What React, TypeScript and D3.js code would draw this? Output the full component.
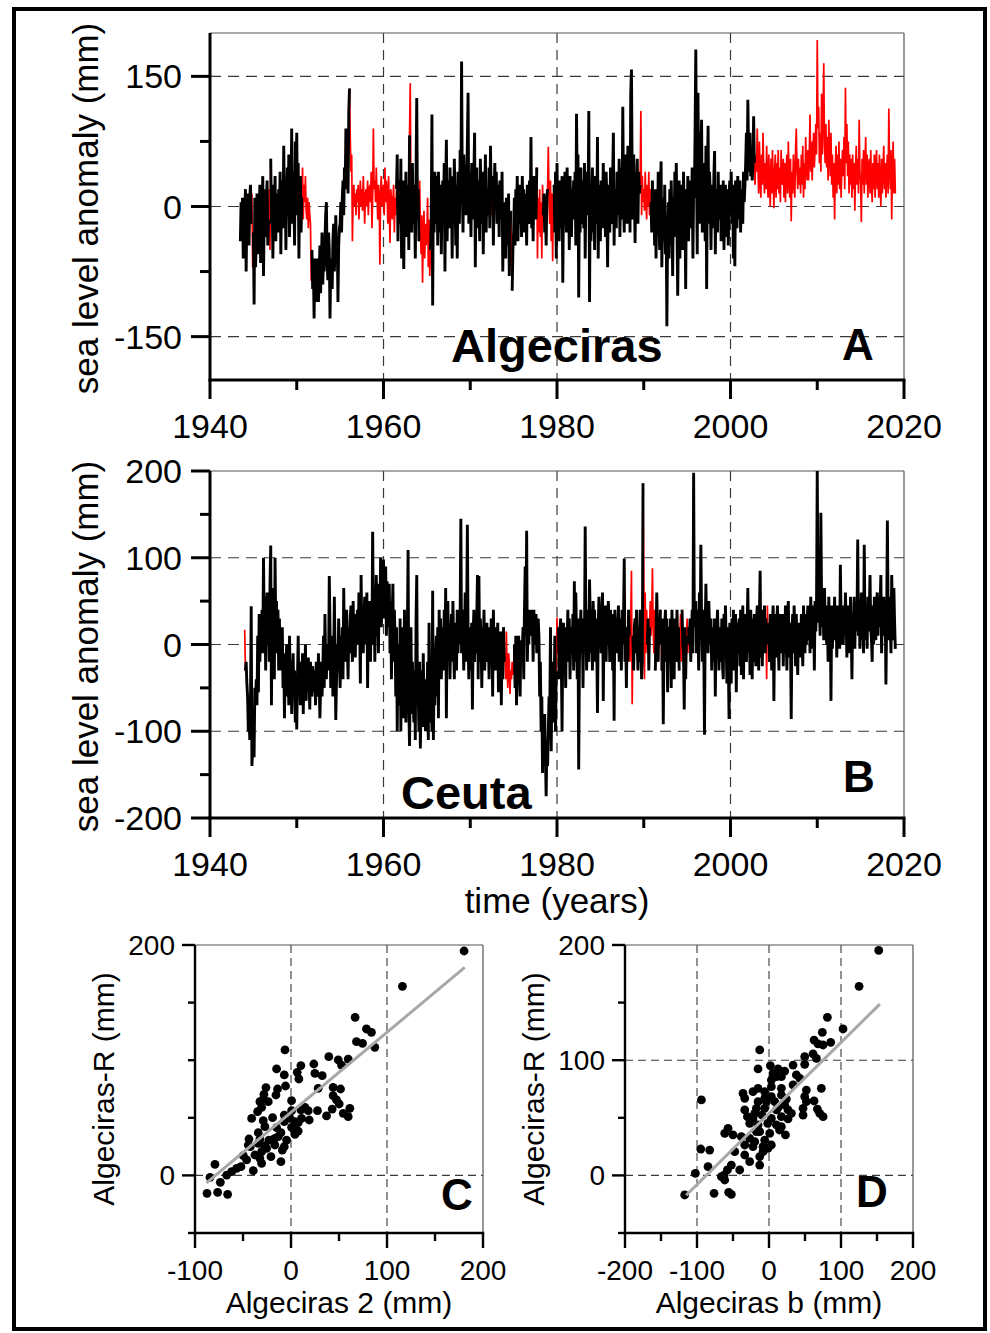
import React, { useEffect, useRef } from "react";
import * as d3 from "d3";

const FONT = "Arial, 'Liberation Sans', Helvetica, sans-serif";

// ---------- shared time axis ----------
const yearMajor = [1940, 1960, 1980, 2000, 2020];
const yearMinor = [1950, 1970, 1990, 2010];
const yearGrid = [1960, 1980, 2000];

// ---------- Panel A: Algeciras monthly sea level anomaly (mm), from Jul 1943 ----------
const algecirasStart = 1943.5;
const algeciras: number[] = [
  -40, 5, -20, 10, -60, -10,
  -15, 20, -75, -5, 15, -30, -45, 10, 25, -20, 15, -70,
  -30, -113, 10, -70, -40, 15, -20, -55, -5, 25, -65, -20,
  -5, 35, -80, -10, 20, -35, 5, 30, -45, -15, 20, -50,
  55, -20, 10, -60, 25, -10, 35, -40, 5, 15, -30, 20,
  -15, 40, -55, 10, 30, -25, 70, -5, 20, -50, 15, 45,
  -10, 60, -35, 25, 5, 90, -20, 40, 10, -45, 75, 30,
  85, -10, 50, -60, 20, 35, -30, 10, 45, -15, 25, 5,
  35, -5, -15, 10, -25, 5, -10, -20, -86, -50, -95, -70,
  -129, -60, -110, -80, -95, -60, -110, -80, -45, -100, -65, -30,
  -90, -55, -75, -40, -10, 5, -60, -85, -30, -50, -129, -70,
  -60, -95, -40, -20, -75, -50, -10, -65, -35, -110, -45, -25,
  -20, 5, -30, 10, 30, -10, 45, 20, 90, 35, 60, 15,
  110, 136, 80, 40, 60, -40, 10, 25, 0, 15, -10, 20,
  5, 25, -15, 10, 30, 0, 20, -5, 35, 10, -20, 15,
  20, 0, 30, -10, 15, 25, 5, 40, -25, 10, 90, 20,
  30, 5, 45, 15, -15, 25, 10, -67, 20, 35, 0, 15,
  25, -10, 45, 5, 30, 15, -20, 35, 0, -42, 20, 10,
  -15, 5, 25, -30, 10, -10, 20, 60, -40, 30, 5, -20,
  55, -60, 10, 30, -72, 15, -20, 40, -35, 5, 25, -50,
  82, 142, 10, -30, 50, -20, 25, 5, -60, 35, 125, -10,
  20, -40, 30, -25, -55, -10, -88, -30, -5, -60, -20, -45,
  -35, 10, -70, -15, -80, -50, -20, 106, -114, 20, -30, 40,
  15, -20, 35, -45, 40, 5, -30, 25, -55, 10, 30, -15,
  50, -75, 20, 77, -40, 10, 30, -25, 45, -10, 15, -60,
  35, -15, 55, 5, -45, 25, -60, 40, 10, -20, 65, 15,
  167, 20, -30, 60, 25, 45, -10, 30, 70, 131, -20, 40,
  15, -35, 50, 10, -15, 35, 85, -70, 20, 45, -25, 10,
  30, -40, 55, 5, -20, 40, -55, 25, 10, 60, -30, 15,
  20, -10, 45, -25, 70, 10, -10, 35, -45, 15, 50, 0,
  40, -20, 25, 5, -35, 30, 10, -15, 40, -75, 5, -40,
  -20, -60, 10, -45, -25, 15, -80, -35, -5, -60, -97, -50,
  -30, 10, -45, 20, -15, 35, -40, 5, 25, -20, 15, -35,
  35, -10, 20, -30, 15, 5, -45, 25, 10, -20, 30, -5,
  80, -25, 15, -40, 35, 0, 20, -15, 45, -60, 10, -30,
  20, -35, 5, -60, 25, -10, 15, -30, 0, -45, 10, 20,
  69, 5, -20, 30, -40, 15, -63, 10, 25, -30, 40, -60,
  50, -15, 20, -40, 30, 5, -25, 35, -88, 10, -20, 40,
  15, -30, 45, -10, 25, -50, 35, 5, -35, 20, -15, 30,
  -10, 40, -45, 107, 20, 60, -105, 15, -30, 45, -20, 10,
  30, -25, 50, -60, 20, -10, 40, 5, 110, -110, 25, -40,
  10, 45, -30, 20, -50, 35, 5, -20, 80, -60, 25, 15,
  -40, 30, 10, -25, 50, -15, 20, -35, 40, 5, -70, 25,
  15, -30, 45, 0, -20, 35, 85, -45, 20, 10, -25, 40,
  30, -10, 55, -35, 20, 45, -15, 115, 10, -30, 60, 25,
  40, -20, 70, 5, 50, -30, 130, 158, 35, -15, 60, 20,
  -42, 30, 10, 55, -20, 40, 15, 25, 110, -10, 35, 5,
  20, -5, 40, 10, -15, 25, 0, 40, -10, 20, 5, -30,
  30, -25, 10, -45, 20, -60, 5, -30, 40, -15, -50, 15,
  52, -70, -20, 10, -40, 25, -55, -15, -138, -30, 5, -60,
  20, -45, 30, -20, -80, 10, -35, 40, -10, 50, -25, -103,
  -15, 30, -60, 10, -30, 25, -50, 40, -20, 5, -95, 20,
  -10, 35, -40, 15, -25, 30, -5, 45, -60, 20, 10, 85,
  181, 40, -55, 131, 20, 85, -20, 60, 100, -30, 25, 50,
  10, -40, 70, -95, 30, 93, -20, 40, 15, -50, 25, 5,
  -25, 35, 64, -55, 10, 20, -30, 40, -15, 5, 25, -40,
  15, -20, 30, -50, 10, 25, -35, 20, 0, -45, 15, 30,
  -10, 40, -20, 25, -60, 10, -69, 30, 5, -25, 35, 15,
  -15, 30, -30, 20, 10, -20, 40, 5, 25, 50, 85, 30,
  123, 60, 40, 85, 35, 55, 30, 45, 104, 50, 25, 60,
  40, 90, 45, 15, 75, 35, 10, 60, 25, 85, 40, 15,
  50, 20, 70, 30, 10, 60, 25, 0, 55, 15, 65, 35,
  -2, 40, 60, 10, 50, 20, 65, 15, 45, 5, 65, 30,
  25, 55, 10, 50, 5, 40, 60, 15, 75, 35, 10, 55,
  -17, 40, 15, 60, 30, 10, 65, 90, 40, 20, 55, 25,
  45, 15, 60, 25, 70, 10, 50, 20, 80, 45, 30, 65,
  30, 60, 106, 40, 75, 30, 65, 85, 45, 70, 95, 60,
  192, 90, 115, 50, 85, 40, 130, 60, 100, 165, 70, 50,
  95, 45, 80, 30, 100, 60, 35, 85, 25, 60, 10, 50,
  -15, 45, 70, 15, 60, 25, 75, 20, 55, 10, 45, 65,
  35, 80, 20, 137, 50, 95, 35, 75, 15, 60, 25, 55,
  10, 60, 20, 50, -5, 45, 70, 25, 55, 15, 100, 40,
  25, -18, 55, 25, 65, 15, 50, 80, 25, 60, 10, 45,
  55, 15, 65, 25, 5, 50, 20, 60, 10, 45, 65, 20,
  50, 10, 60, 25, 0, 55, 15, 45, 70, 20, 50, 10,
  40, 60, 15, 113, 45, 20, 65, -15, 45, 75, 15, 55,
  15,
];
// periods drawn in red (second record filling the gaps)
const algecirasRed: [number, number][] = [
  [1944.8, 1944.95], [1946.8, 1946.95], [1950.6, 1951.7], [1956.15, 1961.45],
  [1963.05, 1963.12], [1964.15, 1965.4], [1972.45, 1972.55], [1974.7, 1974.8],
  [1977.7, 1978.4], [1978.95, 1979.6], [1989.6, 1990.8], [2002.8, 2020],
];

// ---------- Panel B: Ceuta monthly sea level anomaly (mm), from Jan 1944 ----------
const ceutaStart = 1944.0;
const ceuta: number[] = [
  17, -30, -20, -45, -60, -100, -80, -110, -70, 44, -140, -120,
  -90, -130, -50, -65, -40, -70, 10, -55, 35, -20, 30, 5,
  40, -10, 100, 20, 55, -30, 30, 60, 0, 45, -20, 70,
  114, -70, 40, 10, 65, -40, 100, 20, 50, -10, 40, -30,
  30, -20, 10, -30, 20, -50, -10, -85, -20, -40, 0, -60,
  -30, -70, 10, -50, -20, -80, -40, -10, -60, -30, -90, -50,
  -98, -40, 10, -60, -30, -70, -20, -50, -10, -80, -35, -55,
  0, -65, -30, -50, -15, -40, -75, -20, -45, -60, -25, -40,
  -55, -30, -70, -20, -45, -60, -10, -40, -85, -50, -20, -60,
  -30, 10, -50, 35, -20, -40, 0, -10, -30, 79, 20, -50,
  -20, 10, -60, -30, 55, -10, -87, -40, 0, -25, 30, -20,
  -50, 10, -30, 20, -40, 65, -10, 30, -20, 40, 0, -40,
  20, -10, 30, 45, 10, -20, 50, 0, 25, -15, 35, 10,
  40, 0, 60, 20, -45, 80, 10, 45, -10, 30, 55, 0,
  20, 60, -50, 30, 10, 50, -20, 40, 0, 130, 25, 60,
  -20, 40, 80, 10, 50, -10, 70, 30, 100, 20, 55, 40,
  98, 30, 60, 90, 10, 73, 40, 20, 70, -10, 50, -40,
  30, 70, -20, 40, 10, -60, 20, -100, 0, -30, -70, 30,
  -100, 20, -60, -10, -85, 40, -50, -90, -30, 10, 109, -70,
  -117, -40, 20, -80, -20, -60, -90, -30, -110, 25, 80, -70,
  -50, -100, -20, -120, -60, -30, -95, -10, -70, -40, -100, -60,
  -80, -20, -110, 25, -60, -90, -30, -100, 62, -110, -40, -70,
  -20, 10, -60, 20, -85, 40, -10, 30, -40, 0, 20, -30,
  40, -20, 65, -85, 30, 50, -10, 20, -40, 10, 35, -20,
  50, 0, -40, 25, 10, -30, 40, -10, 20, 0, 30, 145,
  -10, 40, 20, -30, 10, 60, -20, 30, 138, 10, -40, 20,
  0, -30, 25, -75, 10, 40, -20, 20, -10, 30, 80, -40,
  79, -20, 30, 0, -50, 20, -10, 40, -30, 10, -20, 25,
  -10, 20, -40, 10, -20, 30, 0, -60, 40, -10, 15, -30,
  20, -20, 25, -55, 0, -30, 15, -70, 10, -40, 20, -20,
  -10, -40, 15, -30, -50, -10, -20, -57, -30, -40, -20, -35,
  -30, 0, -50, 10, -70, -20, -40, 10, -30, -60, 5, -20,
  -10, 20, -40, 40, 90, 10, 131, -20, 30, 0, 40, 20,
  40, 10, 30, -20, 40, 20, 0, 35, -10, 20, 30, 10,
  -60, -20, -100, -60, -148, -90, -120, -80, -130, -175, -110, -140,
  -100, -60, -80, 20, -123, -40, -90, -20, -60, 10, -100, -30,
  31, -10, 20, -40, 10, 30, -20, -100, 0, 25, -30, 15,
  -50, 20, 0, 40, -20, 30, -40, 10, 20, -10, 35, -30,
  73, -20, 60, 10, -40, 30, -144, -20, 10, 40, -10, 20,
  -50, 30, 0, 136, 20, -30, 40, 10, -20, 75, 30, -10,
  20, -30, 50, 10, 40, -20, 30, 0, -79, 20, 55, 10,
  30, -10, 40, 60, -65, 20, 10, 45, -20, 30, 0, 50,
  20, -20, 40, 10, 35, -30, 20, -88, 40, 0, 30, -10,
  20, 45, -20, 30, 10, -30, 40, 0, 25, 99, -20, 10,
  -50, 20, -20, 40, 10, -20, 30, 85, -69, 10, -30, 20,
  30, -10, 40, 0, -30, 20, -20, 40, 10, -40, -20, 186,
  94, -40, 60, -10, 40, 0, 30, -30, 20, 50, 10, 30,
  88, 20, -10, 40, -30, 10, 60, 20, -20, 30, 0, 40,
  10, -30, 30, -92, 0, 20, 40, -20, 30, -55, 10, 20,
  -10, 30, -50, 40, 0, 20, -40, 30, 10, -20, 40, 0,
  20, -30, 10, 35, -20, 40, 0, -10, -75, 20, -40, 10,
  30, -10, 20, 0, 30, -20, 10, 40, -10, 198, 20, 30,
  50, -10, 40, 20, -30, 60, 10, 115, 30, -20, 40, 0,
  -104, 20, 70, 10, 30, -10, 50, 20, 0, 30, -30, 20,
  10, -20, 30, -60, 20, 0, 40, 10, -30, 20, 0, -20,
  30, -25, -40, 35, -10, 45, 5, -45, 20, -20, -86, 25,
  15, -45, 30, -15, 40, -30, 10, 35, -55, 25, -10, 15,
  30, -25, 40, -35, 5, 45, -40, 25, -15, 35, -20, 20,
  65, -10, 25, -35, 40, 5, -40, 30, -20, 35, 0, -25,
  25, 45, -5, -30, 35, 85, -15, 30, -25, 40, 5, 45,
  -10, 30, -40, 45, 0, 25, -20, 35, 10, -30, 25, 45,
  -65, 15, 35, -15, 25, 45, 0, -30, 35, -10, 25, 5,
  35, -25, 25, -10, 45, 5, -30, 35, 50, -15, 25, 0,
  -86, 15, 35, -10, 45, 20, -25, 35, -5, -35, 25, 10,
  25, -15, 35, 5, -25, 45, 15, -10, 35, 0, 25, 45,
  5, 35, -10, 55, 15, 45, -5, 35, -30, 50, 15, 45,
  200, 60, 25, 45, 10, 152, 50, 20, 45, 5, 65, 25,
  45, 0, 35, -20, 55, 15, 30, -65, 45, -5, 35, 15,
  55, 5, 45, -15, 30, 10, 45, -5, 92, 25, 0, 45,
  0, 45, 10, 60, 25, -15, 45, 10, 35, -10, 55, 15,
  -40, 35, 5, 55, -5, 45, 15, 30, 121, 10, 45, -5,
  30, 60, 5, 45, -10, 115, 25, 5, 45, -5, 55, 15,
  40, 80, 20, 5, -20, 45, 0, 55, 25, 5, 45, 60,
  10, 55, 20, 45, 80, -10, 35, 10, 55, 20, 45, -46,
  25, 143, 40, 5, 55, 20, -10, 80, 35, 5, 65, 25,
  -5,
];
const ceutaRed: [number, number][] = [
  [1944.0, 1944.05], [1974.0, 1975.0], [1980.0, 1980.1], [1988.4, 1988.7],
  [1990.0, 1990.35], [1990.7, 1991.3], [1991.95, 1992.05], [1994.15, 1994.4],
  [1995.0, 1995.1], [2004.15, 2004.3],
];

// ---------- Panel C: Algeciras 2 vs Algeciras-R (mm) ----------
const scatterC_x = [
  180.3, 116.1, 66.8, 78.6, 83.8, 68.2, 74.5, 87.3, -6.3, 39.4, 49.2, 59.6, 52.6, 23.8, 10.3,
  -15.0, 6.5, 24.9, 32.5, -7.0, 8.2, -5.7, -14.0, -26.1, 28.3, 43.9, 51.6, -28.2, -15.7, -28.9,
  43.9, 47.4, 0.6, -32.4, 50.2, -30.6, 14.5, 10.3, 0.6, 42.9, 61.3, 27.6, 17.9, 54.4, 59.6,
  -41.0, -19.2, -28.9, 37.0, 19.0, -7.0, -7.0, 4.1, 7.5, -27.2, 0.6, -15.0, 3.4, 7.5, -34.1,
  -10.5, 4.1, -43.8, -32.4, -23.0, -16.8, -34.1, -20.2, -42.4, -27.2, -25.4, -7.0, -4.6, -9.1, -37.6,
  -32.4, -20.9, -30.6, -49.7, -52.1, -56.6, -61.8, -67.0, -39.3, -79.2, -84.4, -73.6, -87.5, -76.4, -66.0,
  -44.5, -10.5, -23.7, -34.8, -13.3, -1.1, 11.0, -30.6, -46.2, -16.8,
];
const scatterC_y = [
  194.8, 164.1, 137.2, 127.1, 124.2, 116.1, 114.6, 111.2, 108.9, 103.1, 100.2, 101.0, 95.8, 96.7, 95.3,
  92.4, 89.5, 88.6, 86.6, 87.2, 83.7, 77.6, 75.0, 76.2, 75.6, 76.4, 75.0, 70.4, 69.8, 66.3,
  69.2, 65.5, 64.9, 64.0, 62.0, 59.1, 59.1, 56.8, 56.2, 57.6, 58.2, 56.2, 56.2, 53.9, 51.0,
  49.5, 50.1, 47.5, 51.6, 48.1, 52.4, 46.6, 46.6, 45.8, 42.3, 41.7, 41.4, 39.4, 38.5, 37.1,
  37.1, 35.6, 31.6, 31.6, 30.7, 32.2, 27.8, 30.7, 24.9, 25.8, 23.5, 24.9, 30.7, 22.0, 17.7,
  14.8, 16.3, 10.5, 17.1, 7.6, 6.1, 3.2, 0.3, 4.1, 9.6, -1.7, -6.0, -15.6, -14.7, -16.4,
  26.4, 11.9, 64.0, 55.3, 33.6, 49.5, 49.5, 20.6, 13.4, 26.4,
];
const fitC = { slope: 0.695, intercept: 54.7, from: -88, to: 181 };

// ---------- Panel D: Algeciras b vs Algeciras-R (mm) ----------
const scatterD_x = [
  152.4, 125.1, 81.1, 102.8, 74.1, 62.6, 68.1, 85.7, 75.1, -12.9, 49.6, 61.2, 65.8, 33.4, 49.6,
  1.9, -15.2, 12.6, 21.8, 5.6, 17.2, 38.0, 42.7, 3.3, 33.4, -36.1, -22.2, -15.2, -6.0, 17.2,
  51.9, 72.7, -93.9, -6.0, 3.3, 17.2, 49.6, -15.2, 8.0, 24.1, 51.9, 62.6, -33.7, -17.5, -6.0,
  12.6, 26.4, 47.3, 67.2, 70.4, 75.1, -30.0, -22.2, -9.7, 3.3, 17.2, 47.3, 26.4, -26.8, -15.2,
  -1.8, 10.3, 17.2, -56.9, -50.0, -61.5, -38.4, -12.9, 1.0, 14.6, 22.9, -26.8, -19.8, -6.0, 3.3,
  -33.7, -22.2, -8.3, -47.6, -33.7, -12.9, -26.8, -12.9, -94.8, -82.4, -84.7, -102.3, -52.3, -40.7, -57.8,
  -62.4, -61.5, -117.1, -76.3, -56.0, -52.3, -66.1, 10.3, 21.8, 31.1, -3.6, -19.8, 3.3, 10.3, -33.7,
  -8.3, -1.4, -17.5,
];
const scatterD_y = [
  195.4, 164.1, 137.2, 127.1, 124.2, 117.5, 114.1, 115.5, 113.2, 108.9, 103.1, 105.4, 101.6, 95.8, 96.4,
  95.3, 92.4, 92.4, 90.6, 88.6, 85.7, 87.2, 84.3, 82.8, 78.5, 71.2, 72.7, 75.6, 72.7, 75.6,
  74.1, 75.6, 65.5, 66.9, 68.3, 69.8, 68.3, 64.0, 64.0, 66.3, 64.0, 64.6, 56.8, 58.2, 58.2,
  58.8, 56.8, 58.2, 57.6, 53.9, 51.0, 51.0, 49.5, 52.4, 49.5, 51.0, 52.4, 49.0, 45.2, 43.8,
  45.2, 43.8, 42.3, 40.9, 35.1, 36.5, 33.6, 38.0, 36.5, 39.4, 35.1, 32.2, 29.3, 30.7, 26.4,
  26.4, 24.9, 24.9, 20.6, 17.7, 16.3, 11.9, 9.0, 22.9, 22.0, 7.6, 1.8, 9.0, 4.7, 4.7,
  0.3, -4.0, -17.0, -15.6, -14.7, -16.4, -1.1, 56.8, 61.1, 53.9, 64.0, 53.9, 77.0, 85.7, 66.9,
  20.6, 23.5, 38.0,
];
const fitD = { slope: 0.617, intercept: 53.7, from: -115, to: 154 };

type Sel = d3.Selection<SVGGElement, unknown, null, undefined>;

function line(g: Sel, x1: number, y1: number, x2: number, y2: number, stroke: string, w: number, dash?: string) {
  const l = g.append("line").attr("x1", x1).attr("y1", y1).attr("x2", x2).attr("y2", y2)
    .attr("stroke", stroke).attr("stroke-width", w);
  if (dash) l.attr("stroke-dasharray", dash);
  return l;
}

function text(g: Sel, x: number, y: number, s: string, size: number, anchor: string, bold = false) {
  return g.append("text").attr("x", x).attr("y", y).attr("font-family", FONT).attr("font-size", size)
    .attr("text-anchor", anchor).attr("font-weight", bold ? "bold" : "normal").attr("fill", "#000").text(s);
}

interface TimeCfg {
  id: string; top: number; bottom: number; left: number; right: number;
  yMajor: number[]; yMinor: number[]; yGrid: number[];
  values: number[]; start: number; red: [number, number][];
  name: string; nameX: number; nameY: number; letter: string; letterX: number; letterY: number;
}

function timePanel(root: Sel, c: TimeCfg) {
  const g = root.append("g");
  const x = d3.scaleLinear().domain([1940, 2020]).range([c.left, c.right]);
  const y = d3.scaleLinear().domain([-200, 200]).range([c.bottom, c.top]);
  // grid
  c.yGrid.forEach((v) => line(g, c.left, y(v), c.right, y(v), "#3a3a3a", 1.2, "11,7"));
  yearGrid.forEach((v) => line(g, x(v), c.top, x(v), c.bottom, "#3a3a3a", 1.2, "10,7"));
  // top/right frame
  line(g, c.left, c.top, c.right, c.top, "#555", 1.2);
  line(g, c.right, c.top, c.right, c.bottom, "#555", 1.2);

  const clipId = "clip-" + c.id;
  g.append("clipPath").attr("id", clipId).append("rect")
    .attr("x", c.left).attr("y", c.top - 2).attr("width", c.right - c.left).attr("height", c.bottom - c.top + 2);

  const pts = c.values.map((v, i) => ({ t: c.start + i / 12, v }));
  const isRed = pts.map((p) => c.red.some(([a, b]) => p.t >= a - 1e-6 && p.t <= b + 1e-6));
  const redLine = d3.line<{ t: number; v: number }>()
    .defined((_d, i) => isRed[i] || !!isRed[i - 1] || !!isRed[i + 1])
    .x((d) => x(d.t)).y((d) => y(d.v));
  const blackLine = d3.line<{ t: number; v: number }>()
    .defined((_d, i) => !isRed[i])
    .x((d) => x(d.t)).y((d) => y(d.v));
  const sg = g.append("g").attr("clip-path", `url(#${clipId})`);
  sg.append("path").attr("d", redLine(pts) || "").attr("fill", "none").attr("stroke", "#ff0000")
    .attr("stroke-width", 1.7).attr("stroke-linejoin", "miter");
  sg.append("path").attr("d", blackLine(pts) || "").attr("fill", "none").attr("stroke", "#000")
    .attr("stroke-width", 2.9).attr("stroke-linejoin", "miter");

  // axes
  line(g, c.left, c.top, c.left, c.bottom + 1.5, "#000", 3);
  line(g, c.left - 1.5, c.bottom, c.right + 1.5, c.bottom, "#000", 3);
  c.yMajor.forEach((v) => {
    line(g, c.left, y(v), c.left - 19, y(v), "#000", 3);
    text(g, c.left - 28, y(v) + 12, String(v), 34, "end");
  });
  c.yMinor.forEach((v) => line(g, c.left, y(v), c.left - 10, y(v), "#000", 3));
  yearMajor.forEach((v) => {
    line(g, x(v), c.bottom, x(v), c.bottom + 19, "#000", 3);
    text(g, x(v), c.bottom + 58, String(v), 34, "middle");
  });
  yearMinor.forEach((v) => line(g, x(v), c.bottom, x(v), c.bottom + 10, "#000", 3));

  g.append("text").attr("transform", `translate(98,${(c.top + c.bottom) / 2 + 2}) rotate(-90)`)
    .attr("font-family", FONT).attr("font-size", 35).attr("text-anchor", "middle")
    .text("sea level anomaly (mm)");

  text(g, c.nameX, c.nameY, c.name, 47, "start", true);
  text(g, c.letterX, c.letterY, c.letter, 44, "start", true);
}

interface ScatterCfg {
  left: number; right: number; top: number; bottom: number;
  xDomain: [number, number]; yDomain: [number, number];
  xMajor: number[]; xMinor: number[]; yMajor: number[]; yMinor: number[];
  xGrid: number[]; yGrid: number[]; xs: number[]; ys: number[];
  fit: { slope: number; intercept: number; from: number; to: number };
  xLabel: string; yLabel: string; yLabelX: number; letter: string; letterX: number; letterY: number;
}

function scatterPanel(root: Sel, c: ScatterCfg) {
  const g = root.append("g");
  const x = d3.scaleLinear().domain(c.xDomain).range([c.left, c.right]);
  const y = d3.scaleLinear().domain(c.yDomain).range([c.bottom, c.top]);
  c.yGrid.forEach((v) => line(g, c.left, y(v), c.right, y(v), "#3a3a3a", 1.1, "8,5"));
  c.xGrid.forEach((v) => line(g, x(v), c.top, x(v), c.bottom, "#3a3a3a", 1.1, "8,5"));
  line(g, c.left, c.top, c.right, c.top, "#555", 1.2);
  line(g, c.right, c.top, c.right, c.bottom, "#555", 1.2);

  g.selectAll("circle.pt").data(d3.range(c.xs.length)).enter().append("circle")
    .attr("cx", (i) => x(c.xs[i])).attr("cy", (i) => y(c.ys[i])).attr("r", 4.4).attr("fill", "#000");

  const fx = [c.fit.from, c.fit.to];
  const fl = d3.line<number>().x((v) => x(v)).y((v) => y(c.fit.intercept + c.fit.slope * v));
  g.append("path").attr("d", fl(fx) || "").attr("stroke", "#a8a8a8").attr("stroke-width", 3).attr("fill", "none");

  line(g, c.left, c.top, c.left, c.bottom + 1.2, "#000", 2.4);
  line(g, c.left - 1.2, c.bottom, c.right + 1.2, c.bottom, "#000", 2.4);
  c.yMajor.forEach((v) => {
    line(g, c.left, y(v), c.left - 13, y(v), "#000", 2.4);
    text(g, c.left - 20, y(v) + 10, String(v), 28, "end");
  });
  c.yMinor.forEach((v) => line(g, c.left, y(v), c.left - 7, y(v), "#000", 2.4));
  c.xMajor.forEach((v) => {
    line(g, x(v), c.bottom, x(v), c.bottom + 15, "#000", 2.4);
    text(g, x(v), c.bottom + 47, String(v), 28, "middle");
  });
  c.xMinor.forEach((v) => line(g, x(v), c.bottom, x(v), c.bottom + 8, "#000", 2.4));

  text(g, (c.left + c.right) / 2, c.bottom + 80, c.xLabel, 30, "middle");
  g.append("text").attr("transform", `translate(${c.yLabelX},${(c.top + c.bottom) / 2 - 0}) rotate(-90)`)
    .attr("font-family", FONT).attr("font-size", 30).attr("text-anchor", "middle").text(c.yLabel);
  text(g, c.letterX, c.letterY, c.letter, 44, "start", true);
}

export default function App() {
  const ref = useRef<SVGSVGElement>(null);
  useEffect(() => {
    const svg = d3.select(ref.current!);
    svg.selectAll("*").remove();
    const root = svg.append("g") as unknown as Sel;
    root.append("rect").attr("x", 0).attr("y", 0).attr("width", 990).attr("height", 1333).attr("fill", "#fff");
    root.append("rect").attr("x", 14).attr("y", 9).attr("width", 971).attr("height", 1320)
      .attr("fill", "none").attr("stroke", "#000").attr("stroke-width", 4);

    timePanel(root, {
      id: "a", top: 33, bottom: 380, left: 210, right: 904,
      yMajor: [150, 0, -150], yMinor: [75, -75], yGrid: [150, 0, -150],
      values: algeciras, start: algecirasStart, red: algecirasRed,
      name: "Algeciras", nameX: 451, nameY: 362, letter: "A", letterX: 842, letterY: 360,
    });
    timePanel(root, {
      id: "b", top: 471, bottom: 818, left: 210, right: 904,
      yMajor: [200, 100, 0, -100, -200], yMinor: [150, 50, -50, -150], yGrid: [100, 0, -100],
      values: ceuta, start: ceutaStart, red: ceutaRed,
      name: "Ceuta", nameX: 401, nameY: 809, letter: "B", letterX: 843, letterY: 792,
    });
    text(root, 557, 913, "time (years)", 35, "middle");

    scatterPanel(root, {
      left: 195, right: 483, top: 945, bottom: 1233,
      xDomain: [-100, 200], yDomain: [-50, 200],
      xMajor: [-100, 0, 100, 200], xMinor: [-50, 50, 150],
      yMajor: [200, 0], yMinor: [150, 100, 50, -50],
      xGrid: [0, 100], yGrid: [0], xs: scatterC_x, ys: scatterC_y, fit: fitC,
      xLabel: "Algeciras 2 (mm)", yLabel: "Algeciras-R (mm)", yLabelX: 114,
      letter: "C", letterX: 441, letterY: 1210,
    });
    scatterPanel(root, {
      left: 625, right: 913, top: 945, bottom: 1233,
      xDomain: [-200, 200], yDomain: [-50, 200],
      xMajor: [-200, -100, 0, 100, 200], xMinor: [-150, -50, 50, 150],
      yMajor: [200, 100, 0], yMinor: [150, 50, -50],
      xGrid: [-100, 0, 100], yGrid: [100, 0], xs: scatterD_x, ys: scatterD_y, fit: fitD,
      xLabel: "Algeciras b (mm)", yLabel: "Algeciras-R (mm)", yLabelX: 544,
      letter: "D", letterX: 856, letterY: 1207,
    });
  }, []);
  return (
    <svg ref={ref} width={990} height={1333}
      style={{ position: "absolute", left: 0, top: 0, display: "block" }} />
  );
}
